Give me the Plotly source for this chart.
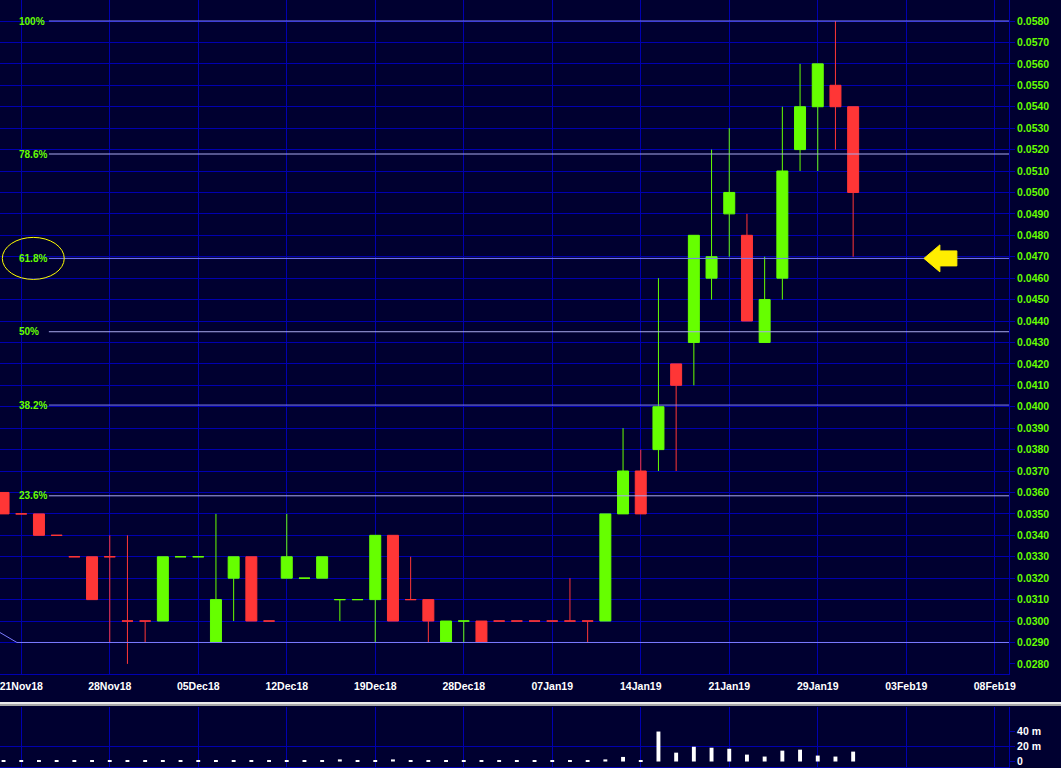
import plotly.graph_objects as go
import pandas as pd

# ---------------- data ----------------
dates = ['20Nov18', '21Nov18', '22Nov18', '23Nov18', '26Nov18', '27Nov18', '28Nov18', '29Nov18', '30Nov18',
         '03Dec18', '04Dec18', '05Dec18', '06Dec18', '07Dec18', '10Dec18', '11Dec18', '12Dec18', '13Dec18',
         '14Dec18', '17Dec18', '18Dec18', '19Dec18', '20Dec18', '21Dec18', '24Dec18', '27Dec18', '28Dec18',
         '31Dec18', '02Jan19', '03Jan19', '04Jan19', '07Jan19', '08Jan19', '09Jan19', '10Jan19', '11Jan19',
         '14Jan19', '15Jan19', '16Jan19', '17Jan19', '18Jan19', '21Jan19', '22Jan19', '23Jan19', '24Jan19',
         '25Jan19', '29Jan19', '30Jan19', '31Jan19']

open_ = [0.036, 0.035, 0.035, 0.034, 0.033, 0.033, 0.033, 0.030, 0.030,
         0.030, 0.033, 0.033, 0.029, 0.032, 0.033, 0.030, 0.032, 0.032,
         0.032, 0.031, 0.031, 0.031, 0.034, 0.031, 0.031, 0.029, 0.030,
         0.030, 0.030, 0.030, 0.030, 0.030, 0.030, 0.030, 0.030, 0.035,
         0.037, 0.038, 0.042, 0.043, 0.046, 0.049, 0.048, 0.043, 0.046,
         0.052, 0.054, 0.055, 0.054]
high = [0.036, 0.035, 0.035, 0.034, 0.033, 0.033, 0.034, 0.034, 0.030,
        0.033, 0.033, 0.033, 0.035, 0.033, 0.033, 0.030, 0.035, 0.032,
        0.033, 0.031, 0.031, 0.034, 0.034, 0.033, 0.031, 0.030, 0.030,
        0.030, 0.030, 0.030, 0.030, 0.030, 0.032, 0.030, 0.035, 0.039,
        0.038, 0.046, 0.042, 0.048, 0.052, 0.053, 0.049, 0.047, 0.054,
        0.056, 0.056, 0.058, 0.054]
low = [0.035, 0.035, 0.034, 0.034, 0.033, 0.031, 0.029, 0.028, 0.029,
       0.030, 0.033, 0.033, 0.029, 0.030, 0.030, 0.030, 0.032, 0.032,
       0.032, 0.030, 0.031, 0.029, 0.030, 0.031, 0.029, 0.029, 0.029,
       0.029, 0.030, 0.030, 0.030, 0.030, 0.030, 0.029, 0.030, 0.035,
       0.035, 0.037, 0.037, 0.041, 0.045, 0.047, 0.044, 0.043, 0.045,
       0.051, 0.051, 0.052, 0.047]
close = [0.035, 0.035, 0.034, 0.034, 0.033, 0.031, 0.033, 0.030, 0.030,
         0.033, 0.033, 0.033, 0.031, 0.033, 0.030, 0.030, 0.033, 0.032,
         0.033, 0.031, 0.031, 0.034, 0.030, 0.031, 0.030, 0.030, 0.030,
         0.029, 0.030, 0.030, 0.030, 0.030, 0.030, 0.030, 0.035, 0.037,
         0.035, 0.040, 0.041, 0.048, 0.047, 0.050, 0.044, 0.045, 0.051,
         0.054, 0.056, 0.054, 0.050]
volume_m = [1.6, 0.8, 0.8, 0.8, 0.8, 1.6, 0.8, 0.8, 0.8,
            0.8, 0.8, 0.8, 1.6, 0.8, 1.6, 0.8, 1.6, 0.8,
            1.6, 2.8, 0.8, 1.6, 2.8, 0.8, 0.8, 0.8, 0.8,
            0.8, 0.8, 0.8, 0.8, 0.8, 0.8, 0.8, 2.8, 6.1,
            1.6, 40.0, 11.8, 19.7, 18.4, 17.0, 9.2, 6.6, 14.5,
            15.8, 7.9, 6.6, 13.2]

axis_dates = ['21Nov18', '28Nov18', '05Dec18', '12Dec18', '19Dec18', '28Dec18',
              '07Jan19', '14Jan19', '21Jan19', '29Jan19', '03Feb19', '08Feb19']

price_tick_labels = ['0.0280', '0.0290', '0.0300', '0.0310', '0.0320', '0.0330', '0.0340', '0.0350',
                     '0.0360', '0.0370', '0.0380', '0.0390', '0.0400', '0.0410', '0.0420', '0.0430',
                     '0.0440', '0.0450', '0.0460', '0.0470', '0.0480', '0.0490', '0.0500', '0.0510',
                     '0.0520', '0.0530', '0.0540', '0.0550', '0.0560', '0.0570', '0.0580']
volume_ticks = [0, 20, 40]
volume_tick_labels = ['0', '20 m', '40 m']

fib_low = 0.029
fib_high = 0.058
fib_ratios = [1.0, 0.786, 0.618, 0.5, 0.382, 0.236]
fib_labels = ['100%', '78.6%', '61.8%', '50%', '38.2%', '23.6%']

# ---------------- styles ----------------
BG = '#000030'
GRID = '#0000b0'
GREEN = '#66ff00'
RED = '#ff3636'
FIB_A = '#7c7cff'
FIB_B = '#a9a9ee'
FONT = 'Liberation Sans'
PRICE_DOMAIN = [0.1219, 1]

idx = list(range(len(dates)))
last_date = pd.to_datetime(dates[-1], format='%d%b%y')
tickvals = []
for d in axis_dates:
    if d in dates:
        tickvals.append(dates.index(d))
    else:
        tickvals.append(idx[-1] + (pd.to_datetime(d, format='%d%b%y') - last_date).days)

# colour of each candle (dojis keep the previous colour)
direction = []
prev = 'down'
for o, c in zip(open_, close):
    if c > o:
        d = 'up'
    elif c < o:
        d = 'down'
    else:
        d = prev
    direction.append(d)
    prev = d

XR = [-0.20056, 56.805]
YR = [0.027552, 0.05898]

fig = go.Figure()

# invisible anchor trace so that the grid subplot (x / y) exists
fig.add_trace(go.Scatter(x=[XR[0]], y=[YR[0] - 1], mode='markers', marker=dict(opacity=0),
                         showlegend=False, hoverinfo='skip', xaxis='x', yaxis='y'))

for dname, col in [('down', RED), ('up', GREEN)]:
    sel = [i for i in idx if direction[i] == dname]
    fig.add_trace(go.Candlestick(
        x=sel,
        open=[open_[i] for i in sel], high=[high[i] for i in sel],
        low=[low[i] for i in sel], close=[close[i] for i in sel],
        increasing=dict(line=dict(color=col, width=1), fillcolor=col),
        decreasing=dict(line=dict(color=col, width=1), fillcolor=col),
        whiskerwidth=0, showlegend=False, hoverinfo='skip',
        xaxis='x', yaxis='y3'))

# trend segment into the 0% level
fig.add_trace(go.Scatter(x=[-1.0, 0.756], y=[0.02985, fib_low], mode='lines',
                         line=dict(color=FIB_A, width=1), showlegend=False, hoverinfo='skip',
                         xaxis='x', yaxis='y3'))
fig.add_trace(go.Scatter(x=[0.756, 60], y=[fib_low, fib_low], mode='lines',
                         line=dict(color=FIB_A, width=1), showlegend=False, hoverinfo='skip',
                         xaxis='x', yaxis='y3'))

annotations = []
for r, lab in zip(fib_ratios, fib_labels):
    lvl = fib_low + r * (fib_high - fib_low)
    col = FIB_B if lab in ('78.6%', '50%', '23.6%') else FIB_A
    fig.add_trace(go.Scatter(x=[2.56, 60], y=[lvl, lvl], mode='lines',
                             line=dict(color=col, width=1), showlegend=False, hoverinfo='skip',
                             xaxis='x', yaxis='y3'))
    annotations.append(dict(x=0.756, y=lvl, xref='x', yref='y3', text=lab, showarrow=False,
                            xanchor='left', yanchor='middle',
                            font=dict(family=FONT, size=10, color=GREEN, weight='bold')))

# volume bars
fig.add_trace(go.Bar(x=idx, y=volume_m, width=0.22, marker=dict(color='#ffffff', line=dict(width=0)),
                     showlegend=False, hoverinfo='skip', xaxis='x2', yaxis='y2'))

fib618 = fib_low + 0.618 * (fib_high - fib_low)
shapes = [
    # separator between panels
    dict(type='rect', xref='paper', yref='paper', x0=-0.01, x1=1.06, y0=0.0820, y1=0.0848,
         fillcolor='#ececec', line=dict(width=0), layer='above'),
    dict(type='rect', xref='paper', yref='paper', x0=-0.01, x1=1.06, y0=0.0795, y1=0.0820,
         fillcolor='#a8a8a8', line=dict(width=0), layer='above'),
    # volume 20 m grid line
    dict(type='line', xref='x2', yref='y2', x0=XR[0], x1=XR[1], y0=20, y1=20,
         line=dict(color=GRID, width=1), layer='below'),
    # ellipse around 61.8% label
    dict(type='circle', xref='x', yref='y3', x0=-0.07, x1=3.43, y0=fib618 - 0.00098, y1=fib618 + 0.00098,
         line=dict(color='#ffff00', width=1)),
    # yellow arrow
    dict(type='path', xref='x', yref='y3',
         path=(f'M 52.0 {fib618} L 52.9 {fib618 + 0.00063} L 52.9 {fib618 + 0.00035} '
               f'L 53.86 {fib618 + 0.00035} L 53.86 {fib618 - 0.00035} L 52.9 {fib618 - 0.00035} '
               f'L 52.9 {fib618 - 0.00063} Z'),
         fillcolor='#ffee00', line=dict(color='#ffee00', width=1)),
]

price_vals = [float(s) for s in price_tick_labels]

fig.update_layout(
    width=1061, height=768,
    margin=dict(l=0, r=52, t=0, b=1),
    paper_bgcolor=BG, plot_bgcolor=BG,
    boxgap=0.38, boxgroupgap=0,
    showlegend=False,
    shapes=shapes,
    annotations=annotations,
    xaxis=dict(domain=[0, 1], range=XR, anchor='y', tickmode='array', tickvals=tickvals,
               ticktext=axis_dates, showgrid=True, gridcolor=GRID, gridwidth=1, zeroline=False,
               showline=True, linecolor=GRID, linewidth=1, ticks='', automargin=False,
               ticklabeloverflow='allow', ticklabelstandoff=3,
               tickfont=dict(family=FONT, size=10.5, color='#ffffff', weight='bold'),
               rangeslider=dict(visible=False), fixedrange=True),
    yaxis=dict(domain=PRICE_DOMAIN, range=YR, anchor='x', side='right', tickmode='array',
               tickvals=price_vals[1:], showticklabels=False, ticks='', showgrid=True,
               gridcolor=GRID, gridwidth=1, zeroline=False, showline=False),
    yaxis3=dict(overlaying='y', domain=PRICE_DOMAIN, range=YR, anchor='x', side='right',
                tickmode='array', automargin=False,
                tickvals=price_vals, ticktext=price_tick_labels, showgrid=False, zeroline=False,
                showline=True, linecolor=GRID, linewidth=1, ticks='outside', ticklen=5,
                tickcolor=GRID, tickwidth=1,
                tickfont=dict(family=FONT, size=10.5, color=GREEN, weight='bold')),
    xaxis2=dict(domain=[0, 1], range=XR, anchor='y2', tickmode='array', tickvals=tickvals,
                showticklabels=False, showgrid=True, gridcolor=GRID, gridwidth=1, zeroline=False,
                showline=True, linecolor=GRID, linewidth=1, ticks=''),
    yaxis2=dict(domain=[0, 0.0782], range=[-7.33, 72.7], anchor='x2', side='right',
                tickmode='array', tickvals=volume_ticks, ticktext=volume_tick_labels,
                showgrid=False, zeroline=False, showline=True, linecolor=GRID, linewidth=1,
                ticks='outside', ticklen=5, tickcolor=GRID, tickwidth=1, automargin=False,
                tickfont=dict(family=FONT, size=10.5, color='#ffffff', weight='bold')),
)

fig.write_html('out.html', config={'displayModeBar': False},
               post_script="document.body.style.margin='0px';")
